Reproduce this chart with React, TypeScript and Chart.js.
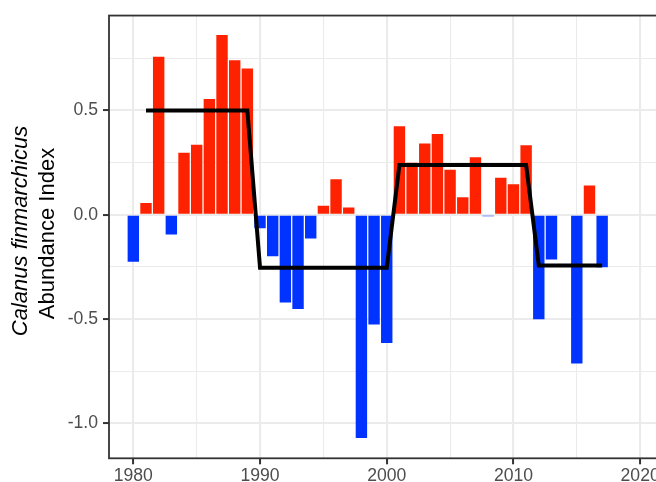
import React, { useEffect, useRef } from 'react';
import { Chart, registerables } from 'chart.js';

Chart.register(...registerables);

// ---- Data ----
const years = [
  1980, 1981, 1982, 1983, 1984, 1985, 1986, 1987, 1988, 1989,
  1990, 1991, 1992, 1993, 1994, 1995, 1996, 1997, 1998, 1999,
  2000, 2001, 2002, 2003, 2004, 2005, 2006, 2007, 2008, 2009,
  2010, 2011, 2012, 2013, 2014, 2015, 2016, 2017,
];
const abundanceIndex = [
  -0.225, 0.057, 0.757, -0.094, 0.298, 0.336, 0.555, 0.862, 0.741, 0.701,
  -0.064, -0.199, -0.42, -0.452, -0.114, 0.044, 0.171, 0.035, -1.07, -0.526,
  -0.614, 0.424, 0.25, 0.342, 0.387, 0.216, 0.084, 0.276, -0.007, 0.178,
  0.147, 0.333, -0.5, -0.214, -0.005, -0.713, 0.141, -0.251,
];
const regimeYears = [1981, 1989, 1990, 2000, 2001, 2011, 2012, 2017];
const regimeMeans = [0.5, 0.5, -0.254, -0.254, 0.239, 0.239, -0.243, -0.243];

const xTickValues = [1980, 1985, 1990, 1995, 2000, 2005, 2010, 2015, 2020];
const xMajorTicks = [1980, 1990, 2000, 2010, 2020];
const yTickValues = [-1.0, -0.75, -0.5, -0.25, 0.0, 0.25, 0.5, 0.75];
const yMajorTicks = [-1.0, -0.5, 0.0, 0.5];

const yTitleItalic = 'Calanus finmarchicus';
const yTitlePlain = 'Abundance Index';

const POS_COLOR = '#FF2200';
const NEG_COLOR = '#0033FF';
const GRID_COLOR = '#EBEBEB';
const TICK_COLOR = '#333333';
const LABEL_COLOR = '#4D4D4D';
const FONT = '"Liberation Sans", Arial, Helvetica, sans-serif';

const isMajorX = (v: number) => xMajorTicks.some((m) => Math.abs(m - v) < 1e-6);
const isMajorY = (v: number) => yMajorTicks.some((m) => Math.abs(m - v) < 1e-6);

const panelPlugin = {
  id: 'panelDecor',
  afterDraw(chart: any) {
    const { ctx, chartArea } = chart;
    ctx.save();
    // panel border
    ctx.strokeStyle = TICK_COLOR;
    ctx.lineWidth = 1.8;
    ctx.strokeRect(chartArea.left, chartArea.top, chartArea.right - chartArea.left, chartArea.bottom - chartArea.top);
    // y-axis title (two lines, first italic)
    ctx.fillStyle = '#000000';
    ctx.textAlign = 'center';
    ctx.textBaseline = 'alphabetic';
    ctx.save();
    ctx.translate(27, 231);
    ctx.rotate(-Math.PI / 2);
    ctx.font = `italic 22px ${FONT}`;
    ctx.fillText(yTitleItalic, 0, 0);
    ctx.restore();
    ctx.save();
    ctx.translate(53.5, 233.5);
    ctx.rotate(-Math.PI / 2);
    ctx.font = `22px ${FONT}`;
    ctx.fillText(yTitlePlain, 0, 0);
    ctx.restore();
    ctx.restore();
  },
};

export default function App() {
  const canvasRef = useRef<HTMLCanvasElement | null>(null);

  useEffect(() => {
    if (!canvasRef.current) return;
    const barData = years.map((y, i) => ({ x: y, y: abundanceIndex[i] }));
    const lineData = regimeYears.map((y, i) => ({ x: y, y: regimeMeans[i] }));

    const chart = new Chart(canvasRef.current, {
      type: 'bar',
      data: {
        datasets: [
          {
            type: 'line',
            data: lineData,
            borderColor: '#000000',
            borderWidth: 4,
            pointRadius: 0,
            tension: 0,
            fill: false,
            order: 0,
          } as any,
          {
            type: 'bar',
            data: barData,
            backgroundColor: abundanceIndex.map((v) => (v >= 0 ? POS_COLOR : NEG_COLOR)),
            borderWidth: 0,
            barPercentage: 0.9,
            categoryPercentage: 1,
            order: 1,
          } as any,
        ],
      },
      options: {
        animation: false,
        responsive: false,
        devicePixelRatio: 1,
        events: [],
        layout: { padding: { left: 0, top: 12.7, right: 14.5, bottom: 0 } },
        plugins: {
          legend: { display: false },
          tooltip: { enabled: false },
          title: { display: false },
        },
        scales: {
          x: {
            type: 'linear',
            min: 1978.08,
            max: 2022,
            offset: false,
            afterFit: (scale: any) => {
              scale.height = 23.7;
            },
            afterBuildTicks: (scale: any) => {
              scale.ticks = xTickValues.map((v) => ({ value: v }));
            },
            border: { display: false },
            grid: {
              offset: false,
              color: GRID_COLOR,
              lineWidth: (c: any) => (c.tick && isMajorX(c.tick.value) ? 2.1 : 1.05),
              drawTicks: true,
              tickLength: 6,
              tickWidth: 2,
              tickColor: (c: any) => (c.tick && isMajorX(c.tick.value) ? TICK_COLOR : 'rgba(0,0,0,0)'),
            },
            ticks: {
              autoSkip: false,
              maxRotation: 0,
              minRotation: 0,
              padding: 1,
              color: LABEL_COLOR,
              font: { family: FONT, size: 17.6 },
              callback: (v: any) => (isMajorX(Number(v)) ? String(v) : ''),
            },
          },
          y: {
            type: 'linear',
            min: -1.167,
            max: 0.955,
            afterFit: (scale: any) => {
              scale.width = 109;
            },
            afterBuildTicks: (scale: any) => {
              scale.ticks = yTickValues.map((v) => ({ value: v }));
            },
            border: { display: false },
            grid: {
              color: GRID_COLOR,
              lineWidth: (c: any) => (c.tick && isMajorY(c.tick.value) ? 2.1 : 1.05),
              drawTicks: true,
              tickLength: 6,
              tickWidth: 2,
              tickColor: (c: any) => (c.tick && isMajorY(c.tick.value) ? TICK_COLOR : 'rgba(0,0,0,0)'),
            },
            ticks: {
              autoSkip: false,
              padding: 5,
              color: LABEL_COLOR,
              font: { family: FONT, size: 17.6 },
              callback: (v: any) => (isMajorY(Number(v)) ? Number(v).toFixed(1) : ''),
            },
          },
        },
      } as any,
      plugins: [panelPlugin],
    });

    return () => chart.destroy();
  }, []);

  return (
    <div
      style={{
        position: 'fixed',
        left: 0,
        top: 0,
        width: 656,
        height: 482,
        overflow: 'hidden',
        background: '#ffffff',
      }}
    >
      <canvas ref={canvasRef} width={680} height={482} style={{ display: 'block', width: 680, height: 482 }} />
    </div>
  );
}
